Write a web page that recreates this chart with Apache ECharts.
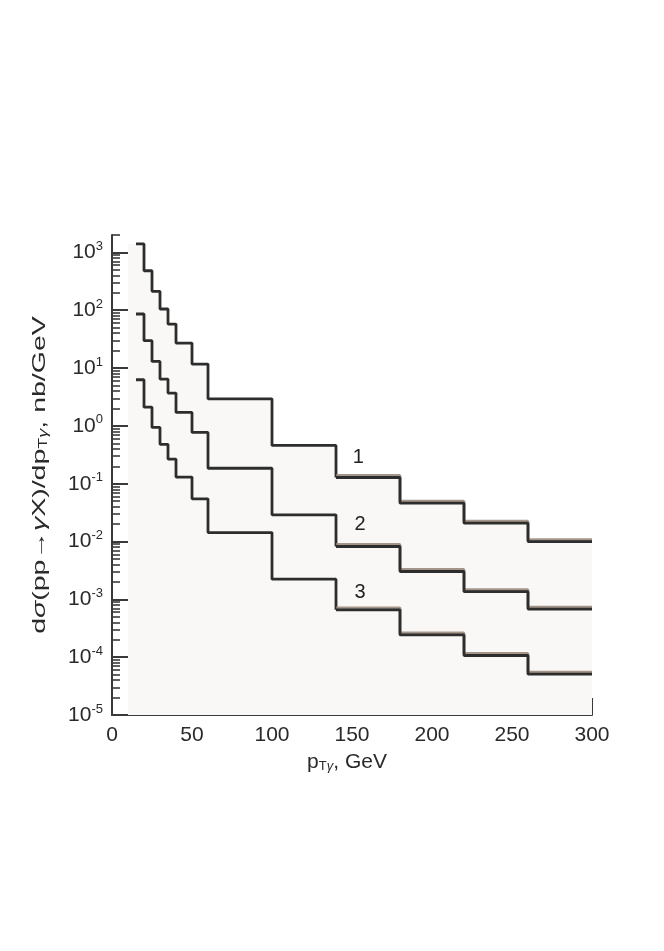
<!DOCTYPE html>
<html>
<head>
<meta charset="utf-8">
<script src="https://cdn.jsdelivr.net/npm/echarts@6/dist/echarts.min.js"></script>
<style>html,body{margin:0;padding:0;background:#fff}#c{width:664px;height:951px}</style>
</head>
<body>
<div id="c"></div>
<script>
// bin edges (GeV) shared by all three histograms
const edges = [15, 20, 25, 30, 35, 40, 50, 60, 100, 140, 180, 220, 260, 300];
// bin contents, nb/GeV
const curve1 = [1400, 482, 212, 105, 57.7, 27, 11.7, 2.94, 0.46, 0.128, 0.046, 0.0208, 0.0100];
const curve2 = [86, 29.7, 13, 6.45, 3.69, 1.71, 0.77, 0.185, 0.029, 0.0082, 0.00303, 0.00136, 0.00068];
const curve3 = [6.28, 2.11, 0.94, 0.48, 0.267, 0.13, 0.0548, 0.0143, 0.00223, 0.00066, 0.000243, 0.000107, 0.0000508];
// curve number labels
const curveNames = ['1', '2', '3'];
const labelX = [154, 155, 155];
const labelY = [0.28, 0.0195, 0.0013];
// axis ticks
const xLabelTicks = [0, 50, 100, 150, 200, 250, 300];
const xMajorTicks = [0, 100, 200, 300];
const xMinorTicks = [50, 150, 250];
const yDecades = [1e-5, 1e-4, 1e-3, 1e-2, 1e-1, 1, 10, 100, 1000];
const yMin = 1e-5, yMax = 2000;
const shadeFrom = 10, shadeTo = 305;
const splitEdge = 140;

const yMinor = [];
for (let n = -5; n <= 3; n++) {
  for (let k = 2; k <= 9; k++) {
    const v = k * Math.pow(10, n);
    if (v <= yMax * 1.0001) yMinor.push(v);
  }
}

function histPoints(vals) {
  const pts = vals.map((v, i) => [edges[i], v]);
  pts.push([edges[edges.length - 1], vals[vals.length - 1]]);
  return pts;
}
function leftPart(vals) {
  const k = edges.indexOf(splitEdge);
  const pts = [];
  for (let i = 0; i <= k; i++) pts.push([edges[i], vals[i]]);
  return pts;
}
function rightPart(vals) {
  const k = edges.indexOf(splitEdge);
  const pts = [];
  for (let i = k; i < vals.length; i++) pts.push([edges[i], vals[i]]);
  pts.push([edges[edges.length - 1], vals[vals.length - 1]]);
  return pts;
}

const FONT = 'Liberation Sans, Arial, Helvetica, sans-serif';
const TXT = '#2a2a2a';
const AX = '#3a3a3a';
const LINE = '#2d2d2d';

const shadeData = [[shadeFrom, curve1[0]]].concat(histPoints(curve1)).concat([[shadeTo, curve1[curve1.length - 1]]]);

const series = [{
  type: 'line', step: 'end', data: shadeData, symbol: 'none', silent: true, z: 1, clip: false,
  lineStyle: { width: 0, opacity: 0 },
  areaStyle: { color: '#f9f8f6', origin: 'start', opacity: 1 }
}];
[curve1, curve2, curve3].forEach(c => {
  series.push({
    type: 'line', step: 'end', data: leftPart(c), symbol: 'none', silent: true, z: 3,
    lineStyle: { color: LINE, width: 2.8 }
  });
  series.push({
    type: 'line', step: 'end', data: rightPart(c), symbol: 'none', silent: true, z: 3,
    lineStyle: { color: LINE, width: 2.8, shadowColor: 'rgba(150,132,118,0.85)', shadowBlur: 0, shadowOffsetY: -2 }
  });
});
series.push({
  type: 'scatter', symbolSize: 0, silent: true, z: 4,
  itemStyle: { opacity: 0 },
  data: curveNames.map((n, i) => ({ value: [labelX[i], labelY[i]], name: n })),
  label: { show: true, position: 'inside', formatter: p => p.name, color: '#222', opacity: 1, fontSize: 20, fontFamily: FONT }
});

const option = {
  animation: false,
  backgroundColor: '#fff',
  grid: { left: 112, right: 72, top: 235, bottom: 236, containLabel: false },
  xAxis: [{
    type: 'value', min: 0, max: 300, interval: 50,
    name: '{n|p}{sub|T}{subi|γ}{n|, GeV}',
    nameLocation: 'middle', nameGap: 28,
    nameTextStyle: {
      color: TXT, fontFamily: FONT, padding: [0, 10, 0, 0],
      rich: {
        n: { fontSize: 21, lineHeight: 22, color: TXT, fontFamily: FONT },
        sub: { fontSize: 13, lineHeight: 13, padding: [9, 0, 0, 0], color: TXT, fontFamily: FONT },
        subi: { fontSize: 13, lineHeight: 13, padding: [9, 0, 0, 0], fontStyle: 'italic', color: TXT, fontFamily: FONT }
      }
    },
    axisLine: { show: true, onZero: false, lineStyle: { color: AX, width: 2 } },
    axisTick: { show: true, inside: true, length: 17, lineStyle: { color: AX, width: 2 }, customValues: xMajorTicks },
    axisLabel: { show: true, margin: 10, color: TXT, fontSize: 21, fontFamily: FONT, customValues: xLabelTicks },
    splitLine: { show: false }
  }, {
    type: 'value', min: 0, max: 300, interval: 50, position: 'bottom',
    axisLine: { show: false },
    axisTick: { show: true, inside: true, length: 8, lineStyle: { color: AX, width: 2 }, customValues: xMinorTicks },
    axisLabel: { show: false },
    splitLine: { show: false }
  }],
  yAxis: [{
    type: 'log', logBase: 10, min: yMin, max: yMax,
    axisLine: { show: true, onZero: false, lineStyle: { color: AX, width: 2 } },
    axisTick: { show: true, inside: true, length: 17, lineStyle: { color: AX, width: 2 }, customValues: yDecades },
    axisLabel: {
      show: true, margin: 9, customValues: yDecades,
      formatter: v => '{b|10}{s|' + Math.round(Math.log10(v)) + '}',
      rich: {
        b: { fontSize: 21, lineHeight: 22, color: TXT, fontFamily: FONT },
        s: { fontSize: 13, lineHeight: 13, padding: [0, 0, 12, 0], color: TXT, fontFamily: FONT }
      }
    },
    splitLine: { show: false }
  }, {
    type: 'log', logBase: 10, min: yMin, max: yMax, position: 'left',
    axisLine: { show: false },
    axisTick: { show: true, inside: true, length: 8, lineStyle: { color: AX, width: 1.6 }, customValues: yMinor },
    axisLabel: { show: false },
    splitLine: { show: false }
  }],
  graphic: [{
    type: 'text', x: 40, y: 475, rotation: Math.PI / 2, scaleX: 1.5, scaleY: 1,
    silent: true,
    style: {
      text: '{n|d}{i|σ}{n|(pp→}{i|γ}{n|X)/dp}{sub|T}{subi|γ}{n|, nb/GeV}',
      align: 'center', verticalAlign: 'middle', fill: TXT,
      fontFamily: FONT, fontSize: 19,
      rich: {
        n: { fontSize: 19, lineHeight: 20, fill: TXT, fontFamily: FONT },
        i: { fontSize: 19, lineHeight: 20, fontStyle: 'italic', fill: TXT, fontFamily: FONT },
        sub: { fontSize: 12, lineHeight: 12, padding: [8, 0, 0, 0], fill: TXT, fontFamily: FONT },
        subi: { fontSize: 12, lineHeight: 12, padding: [8, 0, 0, 0], fontStyle: 'italic', fill: TXT, fontFamily: FONT }
      }
    }
  }],
  series: series
};

const chart = echarts.init(document.getElementById('c'), null, { renderer: 'canvas' });
chart.setOption(option);
</script>
</body>
</html>
